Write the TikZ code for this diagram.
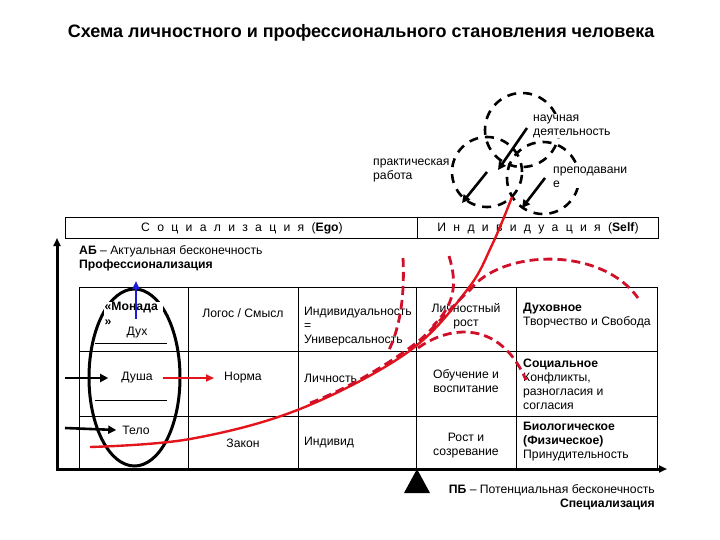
\documentclass[tikz,border=0pt]{standalone}
\usepackage{fontspec}
\setmainfont{Liberation Sans}
\newfontfamily\widefont[WordSpace=2.15]{Liberation Sans}
\usepackage{tikz}
\usetikzlibrary{arrows.meta,positioning,calc}
\definecolor{curvered}{HTML}{E3141B}
\definecolor{dashred}{HTML}{D0102A}
\definecolor{monadblue}{HTML}{1C1CD8}
\tikzset{
  txt/.style={font=\fontsize{12.2}{14}\selectfont,inner sep=0pt},
  lefttxt/.style={txt,anchor=west,align=left},
  midtxt/.style={txt,align=center},
  bigarrow/.style={line width=2.6pt,-{Triangle[length=8pt,width=8pt]}},
  reddash/.style={dashred,line width=2.8pt,dash pattern=on 9pt off 5pt},
  blackdash/.style={black,line width=2.6pt,dash pattern=on 9pt off 7pt}
}

\begin{document}
\begin{tikzpicture}[x=1pt,y=-1pt]
  \useasboundingbox (0,0) rectangle (720,540);
  \node[font=\fontsize{18}{20}\selectfont\bfseries] (title) at (361,33) {Схема личностного и профессионального становления человека};
  % activity circles
  \draw[blackdash] (522,130) circle[radius=37pt];
  \draw[blackdash] (487,172) circle[radius=35pt];
  \draw[blackdash] (543,178) circle[radius=36pt];
  \node[lefttxt,fill=white,inner sep=1pt] (science) at (532,126) {научная\\деятельность};
  \node[lefttxt] (practice) at (373,170) {практическая\\работа};
  \node[lefttxt,fill=white,inner sep=1pt] (teach) at (552,177) {преподавани\\е};
  \draw[bigarrow] (527,128) -- (498,170);
  \draw[bigarrow] (487,172) -- (462,203);
  \draw[bigarrow] (545,178) -- (522,208);
  % header band
  \draw[line width=0.7pt] (65,217) rectangle (658,238) (417,217) -- (417,238);
  \node[txt,font=\fontsize{12.2}{14}\widefont] (social) at (242,228) {С о ц и а л и з а ц и я (\textbf{Ego})};
  \node[txt,font=\fontsize{12.2}{14}\widefont] (individ) at (538,228) {И н д и в и д у а ц и я (\textbf{Self})};
  \node[lefttxt] (ab) at (79,251) {\textbf{АБ} – Актуальная бесконечность};
  \node[lefttxt,font=\fontsize{12.2}{14}\selectfont\bfseries] (prof) at (79,265) {Профессионализация};
  % table
  \draw[line width=0.7pt] (79,469) -- (79,287) -- (657,287) -- (657,469);
  \foreach \x in {188,298,416,516} \draw[line width=0.7pt] (\x,287) -- (\x,469);
  \draw[line width=0.7pt] (79,351) -- (657,351) (79,416) -- (657,416);
  \draw[line width=0.7pt] (95,343) -- (167,343) (95,400) -- (167,400);
  % axes
  \draw[line width=3pt,{Triangle[length=8pt,width=7pt]}-{Triangle[length=8pt,width=7pt]}] (57,238) -- (57,469) -- (667,469);
  \fill (417,469) -- (430,493) -- (404,493) -- cycle;
  \node[txt,anchor=east] (pb) at (655,490) {\textbf{ПБ} – Потенциальная бесконечность};
  \node[txt,anchor=east,font=\fontsize{12.2}{14}\selectfont\bfseries] (spec) at (655,504) {Специализация};
  % monad
  \draw[line width=3pt] (134.5,377.5) ellipse[x radius=45.5pt,y radius=88.5pt];
  \node[lefttxt,font=\fontsize{12.2}{15}\selectfont\bfseries,fill=white,text width=58pt,inner sep=0.5pt] (monad) at (104,314) {«Монада\\»};
  \node[midtxt] (dukh) at (137,333) {Дух};
  \node[midtxt] (dusha) at (137,378) {Душа};
  \node[midtxt] (telo) at (136,430) {Тело};
  \draw[monadblue,line width=2.4pt,-{Triangle[length=8pt,width=7pt]}] (136,319) -- (136,281);
  \coordinate (inS) at (65,378);
  \coordinate (inT) at (65,428);
  \draw[bigarrow] (inS) -- ([xshift=-13pt]dusha.west);
  \draw[bigarrow] (inT) -- ([xshift=-6pt]telo.west);
  % column texts
  \node[midtxt] (logos) at (243,313) {Логос / Смысл};
  \node[midtxt] (norma) at (243,378) {Норма};
  \node[midtxt] (zakon) at (243,443) {Закон};
  \draw[curvered,line width=2.6pt,-{Triangle[length=8pt,width=7pt]}] ([xshift=10pt]dusha.east) -- ([xshift=-10pt]norma.west);
  \node[lefttxt] (univ) at (304,327) {Индивидуальность\\=\\Универсальность};
  \node[lefttxt] (lichn) at (304,378) {Личность};
  \node[lefttxt] (indiv) at (304,443) {Индивид};
  \node[midtxt] (rost) at (466,316) {Личностный\\рост};
  \node[midtxt] (obuch) at (466,381) {Обучение и\\воспитание};
  \node[midtxt] (sozr) at (466,446) {Рост и\\созревание};
  \node[lefttxt] (dukhov) at (523,316) {\textbf{Духовное}\\Творчество и Свобода};
  \node[lefttxt] (soc) at (523,384) {\textbf{Социальное}\\Конфликты,\\разногласия и\\согласия};
  \node[lefttxt] (bio) at (523,442) {\textbf{Биологическое}\\\textbf{(Физическое)}\\Принудительность};
  % growth curves
  \draw[curvered,line width=2.4pt] plot[smooth,tension=0.6] coordinates {(90,447) (190,439) (300,409) (408,352) (467,290) (492,245) (512,197)};
  \draw[reddash] (310,403) .. controls (350,388) and (395,360) .. (420,340) .. controls (440,322) and (455,303) .. (470,290) .. controls (500,250) and (600,245) .. (638,298);
  \draw[reddash] (418,348) .. controls (450,325) and (500,320) .. (526,380);
  \draw[reddash] (403,258) .. controls (405,300) and (399,330) .. (388,352);
  \draw[reddash] (449,256) .. controls (458,285) and (454,305) .. (433,326);
\end{tikzpicture}
\end{document}
